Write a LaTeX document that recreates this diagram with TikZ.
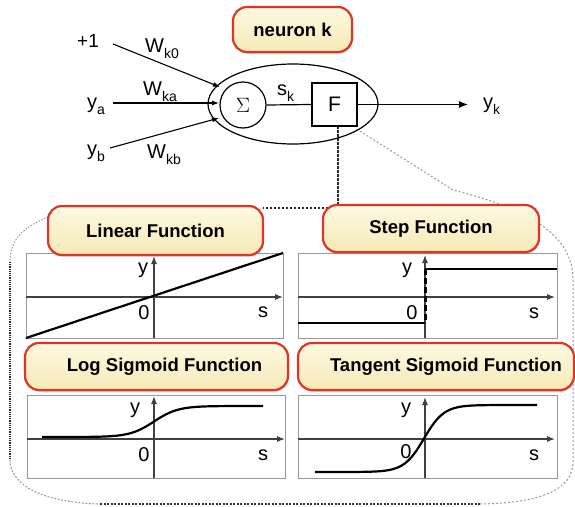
\documentclass[tikz,border=0pt]{standalone}
\usepackage{fontspec}
\setmainfont{Liberation Sans}
\usetikzlibrary{arrows.meta,shapes.geometric,shadows}
\newcommand\lsub[1]{\raisebox{-6pt}{\fontsize{14}{14}\selectfont #1}}
\definecolor{redB}{RGB}{226,52,38}
\definecolor{creamT}{RGB}{253,249,226}
\definecolor{creamB}{RGB}{246,233,182}
\begin{document}
\begin{tikzpicture}[x=1pt,y=-1pt,
  lbl/.style={draw=redB, line width=2.2pt, rounded corners=14pt, top color=creamT, bottom color=creamB,
    inner sep=0pt, font=\fontsize{18.5}{20}\selectfont\bfseries,
    drop shadow={shadow xshift=0.6pt, shadow yshift=-1.6pt, opacity=0.3, fill=black!70}},
  btxt/.style={font=\fontsize{18.5}{20}\selectfont\bfseries, inner sep=0pt},
  pbox/.style={draw=black!40, line width=0.8pt, inner sep=0pt},
  axis/.style={draw=black!75, line width=1.1pt, -{Latex[length=8pt,width=6pt]}},
  curve/.style={line width=2.2pt, black},
  tl/.style={font=\fontsize{20}{20}\selectfont, inner sep=0pt},
  wl/.style={font=\fontsize{20}{20}\selectfont, inner sep=0pt, anchor=base west},
  inarrow/.style={line width=1.1pt, -{Latex[length=7pt,width=5pt]}}]
\useasboundingbox (0,0) rectangle (575,506);

% ---------- enclosure ----------
\coordinate (fdrop) at (338,126);
\coordinate (fcorner) at (338,208);
\coordinate (topl) at (263,208);
\draw[line width=1.4pt, black!85, dash pattern=on 2.5pt off 1.5pt] (fdrop) -- (fcorner) -- (topl);
\draw[line width=1pt, black!40, dash pattern=on 1.5pt off 1.5pt] (48,217) .. controls (22,228) and (10,240) .. (10,262);
\draw[line width=1.6pt, black!85, dash pattern=on 1.2pt off 1pt] (10,262) -- (10,460);
\draw[line width=1pt, black!40, dash pattern=on 2pt off 1.5pt] (10,460) .. controls (10,488) and (50,503) .. (100,504);
\draw[line width=1.3pt, black!80, dash pattern=on 2pt off 1.5pt] (100,504) -- (480,504);
\draw[line width=1pt, black!40, dash pattern=on 2pt off 2pt] (480,504) .. controls (540,503) and (573,490) .. (573,462)
   -- (573,280) .. controls (573,240) and (540,212) .. (453,190) -- (355,128);

% ---------- neuron ----------
\node[lbl, minimum width=119pt, minimum height=45pt] (nk) at (292.5,29.5) {neuron k};
\node[draw, ellipse, line width=1.2pt, minimum width=170pt, minimum height=80pt, inner sep=0pt] (neur) at (293,104) {};
\node[draw, circle, line width=1.2pt, minimum size=46pt, inner sep=0pt] (sig) at (243,105) {\fontsize{21}{21}\selectfont$\Sigma$};
\node[draw, rectangle, line width=1.2pt, minimum width=45pt, minimum height=43pt, inner sep=0pt, font=\fontsize{21}{21}\selectfont] (fb) at (334.5,104.5) {F};
\draw[line width=1.2pt] (sig.east) -- (fb.west);
\coordinate (tipk) at (468,104.5);
\draw[line width=1.2pt, -{Latex[length=9pt,width=7pt]}] (fb.east) -- (tipk);

\node[wl, font=\fontsize{19}{19}\selectfont] (plus1) at (77,47) {+1};
\node[wl] (ya) at (87,108.5) {y\lsub{a}};
\node[wl] (yb) at (87,155.5) {y\lsub{b}};
\node[wl] (wk0) at (145,52) {W\lsub{k0}};
\node[wl] (wka) at (143,95) {W\lsub{ka}};
\node[wl] (wkb) at (147,158) {W\lsub{kb}};
\node[wl] (sk) at (277,95) {s\lsub{k}};
\node[wl] (yk) at (483,108.5) {y\lsub{k}};

\coordinate (s0) at (113,44);  \coordinate (t0) at (220,87);
\coordinate (sa) at (113,103); \coordinate (ta) at (219,103);
\coordinate (sb) at (110,148); \coordinate (tb) at (219,118);
\draw[inarrow] (s0) -- (t0);
\draw[inarrow] (sa) -- (ta);
\draw[inarrow] (sb) -- (tb);

% ---------- plot boxes ----------
\node[pbox, minimum width=257pt, minimum height=85pt] (p1) at (154.5,295.5) {};
\node[pbox, minimum width=259pt, minimum height=85pt] (p2) at (427.5,295.5) {};
\node[pbox, minimum width=258pt, minimum height=83pt] (p3) at (156,436.5) {};
\node[pbox, minimum width=259pt, minimum height=83pt] (p4) at (427.5,436.5) {};

% linear
\draw[axis] (26,297) -- (283,297);
\draw[axis] (154,338) -- (154,256);
\draw[curve] (26,338) -- (283,253);
\node[tl] at (143,270) {y};
\node[tl] at (144,313) {0};
\node[tl] at (263,312) {s};

% step
\draw[axis] (298,297) -- (555,297);
\draw[axis] (425,338) -- (425,255);
\draw[curve] (298,323) -- (425,323);
\draw[curve] (425,269) -- (557,269);
\draw[line width=3pt, black, dash pattern=on 6pt off 3pt] (425,269) -- (425,323);
\node[tl] at (407,270) {y};
\node[tl] at (412,313) {0};
\node[tl] at (534,313) {s};

% log sigmoid
\draw[axis] (27,439) -- (285,439);
\draw[axis] (154,478) -- (154,396);
\draw[curve] plot[domain=42:263, samples=90, smooth] (\x, {437-31/(1+exp(-(\x-154)/12))});
\node[tl] at (135,410) {y};
\node[tl] at (144,455) {0};
\node[tl] at (263,455) {s};

% tangent sigmoid
\draw[axis] (298,439) -- (555,439);
\draw[axis] (425,478) -- (425,397);
\draw[curve] plot[domain=315:537, samples=90, smooth] (\x, {438.5-33.5*tanh((\x-424)/20)});
\node[tl] at (406,410) {y};
\node[tl] at (406,452) {0};
\node[tl] at (534,455) {s};

% ---------- labels ----------
\node[lbl, minimum width=215pt, minimum height=49pt] (lin) at (155.5,230.5) {Linear Function};
\node[lbl, minimum width=216pt, minimum height=47pt] (stp) at (431,228.5) {Step Function};
\node[lbl, minimum width=263pt, minimum height=47pt] (lsg) at (156.5,366.5) {};
\node[btxt] at (164.5,366.5) {Log Sigmoid Function};
\node[lbl, minimum width=276pt, minimum height=47pt] (tsg) at (436,366.5) {};
\node[btxt] at (446,366.5) {Tangent Sigmoid Function};
\end{tikzpicture}
\end{document}
